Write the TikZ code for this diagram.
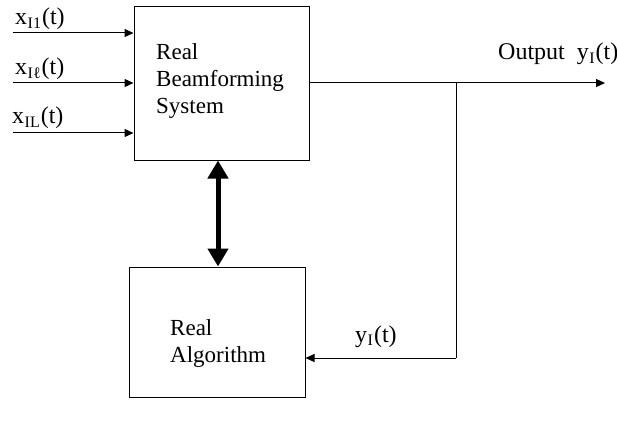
\documentclass[tikz,border=0pt]{standalone}
\usepackage{fontspec}
\setmainfont{Liberation Serif}
\usetikzlibrary{arrows.meta}
\newcommand{\subs}[1]{\kern0.5pt\raisebox{-0.3ex}{\fontsize{16}{16}\selectfont #1}\kern1pt}
\begin{document}
\begin{tikzpicture}[x=1pt,y=-1pt,
  blockbox/.style={draw,line width=1pt,inner sep=0pt},
  boxtext/.style={anchor=base west,inner sep=0pt,font=\fontsize{23}{27}\selectfont},
  lbl/.style={anchor=base west,inner sep=0pt,font=\fontsize{24}{28}\selectfont},
  conn/.style={line width=1pt,-{Triangle[length=9pt,width=8pt]}},
  plain/.style={line width=1pt}]
\useasboundingbox (0,0) rectangle (617,422);
\node[blockbox,minimum width=175pt,minimum height=153pt] (bf) at (221.5,83.5) {};
\node[blockbox,minimum width=176pt,minimum height=130pt] (alg) at (217,332) {};
\node[boxtext] (t1) at (156,60) {Real};
\node[boxtext] (t2) at (156,87) {Beamforming};
\node[boxtext] (t3) at (156,114) {System};
\node[boxtext] (t4) at (170,335) {Real};
\node[boxtext] (t5) at (170,362) {Algorithm};
% inputs
\coordinate (i1) at (13,33);
\coordinate (i2) at (13,83);
\coordinate (i3) at (13,133);
\draw[conn] (i1) -- (i1 -| bf.west);
\draw[conn] (i2) -- (i2 -| bf.west);
\draw[conn] (i3) -- (i3 -| bf.west);
\node[lbl] (l1) at (15,25) {x\subs{I1}(t)};
\node[lbl] (l2) at (15,75) {x\subs{Iℓ}(t)};
\node[lbl] (l3) at (12,124) {x\subs{IL}(t)};
% output
\coordinate (o) at (605,83);
\coordinate (j) at (456,83);
\coordinate (k) at (456,358);
\draw[conn] (o -| bf.east) -- (o);
\draw[plain] (j) -- (k);
\draw[conn] (k) -- (k -| alg.east);
\node[lbl] (lo) at (498,60) {Output\ \ y\subs{I}(t)};
\node[lbl] (lf) at (355,342) {y\subs{I}(t)};
% double arrow
\coordinate (xd) at (218,0);
\draw[line width=5pt,{Triangle[length=18pt,width=20pt]}-{Triangle[length=18pt,width=20pt]}] (bf.south -| xd) -- (alg.north -| xd);
\end{tikzpicture}
\end{document}
